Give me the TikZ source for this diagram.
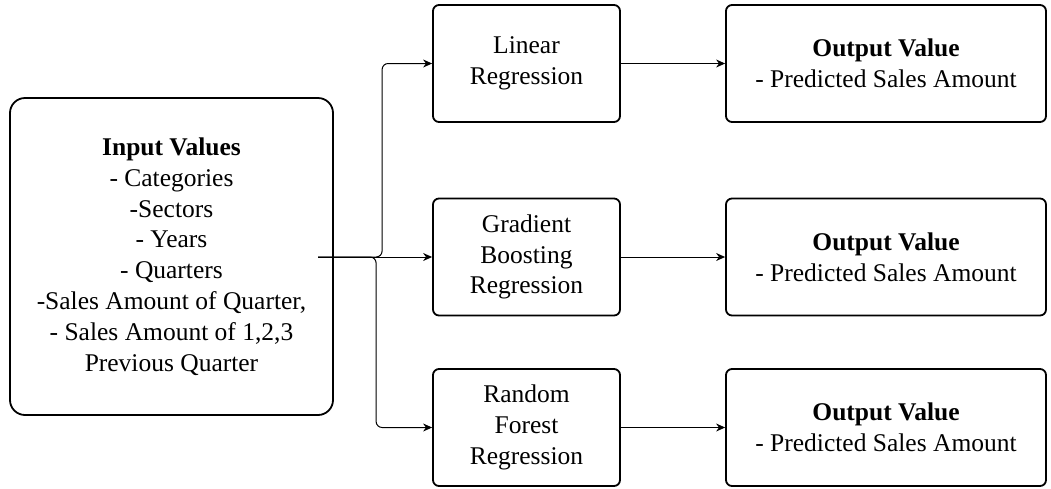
\documentclass[tikz,border=0pt]{standalone}
\usepackage{fontspec}
\setmainfont{Liberation Serif}
\usepackage{tikz}
\usetikzlibrary{arrows.meta,positioning}

\begin{document}
\begin{tikzpicture}[
    x=1pt, y=-1pt,
    inbox/.style={rectangle,draw=black,line width=1.8pt,rounded corners=15pt,
                  minimum width=323pt,minimum height=317pt,align=center,
                  font=\fontsize{25.5}{30.8}\selectfont},
    model/.style={rectangle,draw=black,line width=1.8pt,rounded corners=6pt,
                  minimum width=187pt,minimum height=117pt,align=center,
                  font=\fontsize{25.5}{30.8}\selectfont},
    outbox/.style={rectangle,draw=black,line width=1.8pt,rounded corners=6pt,
                   minimum width=320pt,minimum height=117pt,align=center,
                   font=\fontsize{25.5}{30.8}\selectfont},
    arr/.style={-{Stealth[length=9pt,width=8pt]},line width=1pt,rounded corners=6pt}
  ]
    \useasboundingbox (0,0) rectangle (1051,488);
    \node[inbox] (inp) at (171.5,256.5) {
      \textbf{Input Values}\\
      - Categories\\
      -Sectors\\
      - Years\\
      - Quarters\\
      -Sales Amount of Quarter,\\
      - Sales Amount of 1,2,3\\
      Previous Quarter
    };
    \node[model] (lin) at (526.5,63.5) {Linear\\Regression};
    \node[model] (gbr) at (526.5,257) {Gradient\\Boosting\\Regression};
    \node[model] (rfr) at (526.5,427.5) {Random\\Forest\\Regression};
    \node[outbox] (out1) at (886,63.5) {\textbf{Output Value}\\- Predicted Sales Amount};
    \node[outbox] (out2) at (886,257) {\textbf{Output Value}\\- Predicted Sales Amount};
    \node[outbox] (out3) at (886,427.5) {\textbf{Output Value}\\- Predicted Sales Amount};
    \coordinate (src) at (318,257);
    \draw[arr] (src) -| ([xshift=-50pt]lin.west) -- (lin.west);
    \draw[arr] (src) -- (gbr.west);
    \draw[arr] (src) -| ([xshift=-56pt]rfr.west) -- (rfr.west);
    \draw[arr] (lin) -- (out1);
    \draw[arr] (gbr) -- (out2);
    \draw[arr] (rfr) -- (out3);
  \end{tikzpicture}
\end{document}
